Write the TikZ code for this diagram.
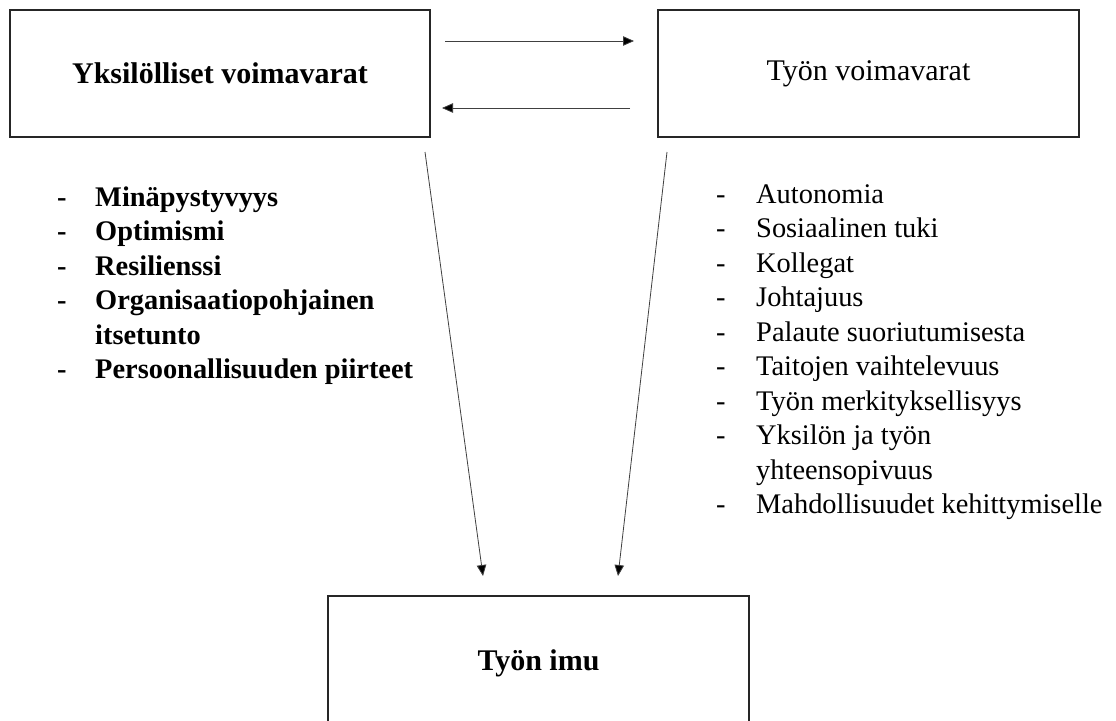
\documentclass[tikz,border=0pt]{standalone}
\usepackage{fontspec}
\setmainfont{Liberation Serif}
\usetikzlibrary{arrows.meta}
\begin{document}
\begin{tikzpicture}[x=1pt,y=-1pt,
  box/.style={draw=black!85, line width=1.1pt, inner sep=0pt},
  hdr/.style={font=\fontsize{30}{36}\selectfont},
  hdrb/.style={font=\fontsize{30}{36}\selectfont\bfseries},
  arr/.style={-{Triangle[length=11pt,width=9.5pt,fill=black]}, line width=0.8pt, draw=black!75},
  item/.style={anchor=base west, inner sep=0pt, font=\fontsize{28.4}{34}\selectfont},
  bitem/.style={item, font=\fontsize{28.4}{34}\selectfont\bfseries},
]
\useasboundingbox (0,0) rectangle (1116,720);
\fill[white] (0,0) rectangle (1116,720);

% boxes
\node[box, hdrb, minimum width=420pt, minimum height=127pt] (b1) at (220,73.5) {Yksilölliset voimavarat};
\node[box, hdr, minimum width=421pt, minimum height=127pt] (b2) at (868.5,73.5) {Työn voimavarat};
\node[box, hdrb, minimum width=421pt, minimum height=134pt] (b3) at (538.5,663) {Työn imu};

% horizontal arrows
\coordinate (h1s) at (445,41);
\coordinate (h1e) at (634,41);
\coordinate (h2s) at (630,108);
\coordinate (h2e) at (442,108);
\draw[arr] (h1s) -- (h1e);
\draw[arr] (h2s) -- (h2e);

% diagonal arrows
\coordinate (d1s) at (425,152);
\coordinate (d1e) at (483,576);
\coordinate (d2s) at (667,152);
\coordinate (d2e) at (618,576);
\draw[arr] (d1s) -- (d1e);
\draw[arr] (d2s) -- (d2e);

% left list
\foreach \i/\t in {0/Minäpystyvyys,1/Optimismi,2/Resilienssi,3/Organisaatiopohjainen,5/Persoonallisuuden piirteet}{
  \node[bitem] (ld\i) at (57,{206+34.5*\i}) {-};
  \node[bitem] (lt\i) at (95,{206+34.5*\i}) {\t};
}
\node[bitem] (lt4) at (95,{206+34.5*4}) {itsetunto};

% right list
\foreach \i/\t in {0/Autonomia,1/Sosiaalinen tuki,2/Kollegat,3/Johtajuus,4/Palaute suoriutumisesta,5/Taitojen vaihtelevuus,6/Työn merkityksellisyys,7/Yksilön ja työn,9/Mahdollisuudet kehittymiselle}{
  \node[item] (rd\i) at (716,{203+34.5*\i}) {-};
  \node[item] (rt\i) at (756,{203+34.5*\i}) {\t};
}
\node[item] (rt8) at (756,{203+34.5*8}) {yhteensopivuus};
\end{tikzpicture}
\end{document}
